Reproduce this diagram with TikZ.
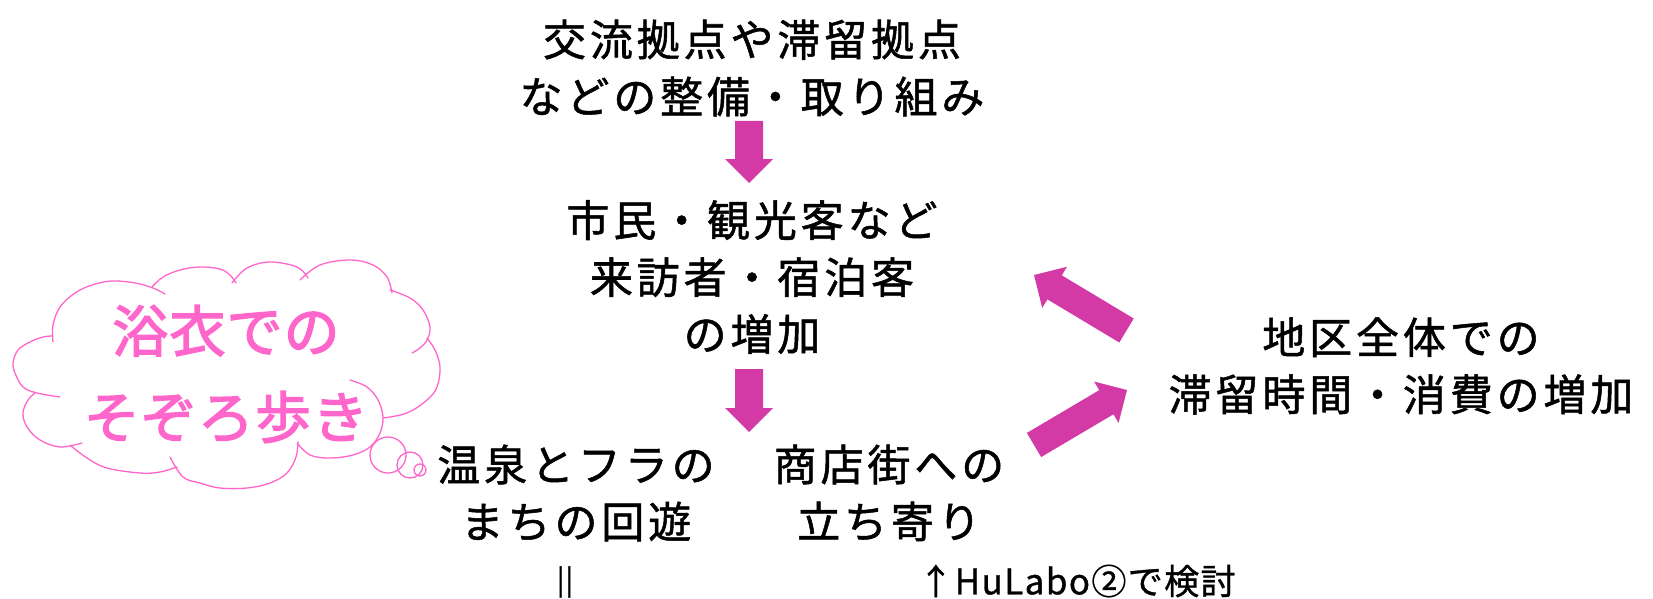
\documentclass[tikz,border=0pt]{standalone}
\usepackage{fontspec}
\setmainfont{Noto Sans CJK JP}
\newfontfamily\jpfont[LetterSpace=9,FakeBold=1.2]{Noto Sans CJK JP}
\newfontfamily\pkfont[LetterSpace=2,FakeBold=2.5]{Noto Sans CJK JP}
\newfontfamily\smfont[LetterSpace=4,FakeBold=1]{Noto Sans CJK JP}
\usetikzlibrary{calc}
\definecolor{arrowc}{RGB}{212,58,165}
\definecolor{pinkc}{RGB}{255,102,204}
\newcommand\myblockarrow[2]{%
  \coordinate (#1#2b) at ($(#2)!24pt!(#1)$);
  \fill[arrowc] ($(#1)!14pt!90:(#2)$) -- ($(#1#2b)!14pt!90:(#2)$) -- ($(#1#2b)!24pt!90:(#2)$) -- (#2) -- ($(#1#2b)!24pt!-90:(#2)$) -- ($(#1#2b)!14pt!-90:(#2)$) -- ($(#1)!14pt!-90:(#2)$) -- cycle;}
\tikzset{
  jtext/.style={align=center, font=\jpfont\fontsize{43}{57}\selectfont, inner sep=0pt, text=black},
  ptext/.style={align=center, font=\pkfont\fontsize{56}{86}\selectfont, inner sep=0pt, text=pinkc},
  stext/.style={font=\smfont\fontsize{35}{40}\selectfont, inner sep=0pt, text=black},
  cloudline/.style={draw=pinkc, line width=1.3pt, line cap=round},
}
\begin{document}
\begin{tikzpicture}[x=1pt, y=-1pt]
\useasboundingbox (0,0) rectangle (1653,599);
\fill[white] (0,0) rectangle (1653,599);

% cloud
\draw[cloudline] plot[smooth, tension=0.6] coordinates {(53,342) (53,325) (60,307) (75,293) (92,285) (112,281) (135,283) (153,288) (165,294)};
\draw[cloudline] plot[smooth, tension=0.6] coordinates {(152,287) (163,277) (180,270) (200,267) (220,269) (230,275) (236,283)};
\draw[cloudline] plot[smooth, tension=0.6] coordinates {(232,283) (247,268) (270,262) (297,267) (308,278)};
\draw[cloudline] plot[smooth, tension=0.6] coordinates {(300,280) (320,265) (350,260) (373,265) (387,277) (392,293)};
\draw[cloudline] plot[smooth, tension=0.6] coordinates {(390,290) (410,298) (423,310) (430,327) (427,340) (420,348) (412,353)};
\draw[cloudline] plot[smooth, tension=0.6] coordinates {(427,338) (435,350) (440,367) (437,387) (427,400) (407,413) (383,418)};
\draw[cloudline] plot[smooth, tension=0.6] coordinates {(350,380) (367,387) (378,400) (383,417) (380,433) (370,447) (353,455) (330,458) (310,455) (297,443)};
\draw[cloudline] plot[smooth, tension=0.6] coordinates {(298,442) (296,457) (287,473) (270,483) (247,488) (220,488) (200,483) (183,477) (170,457)};
\draw[cloudline] plot[smooth, tension=0.6] coordinates {(70,445) (87,458) (107,468) (140,473) (160,472) (177,467)};
\draw[cloudline] plot[smooth, tension=0.6] coordinates {(82,443) (60,447) (40,440) (27,427) (23,413) (28,400) (35,393)};
\draw[cloudline] plot[smooth, tension=0.6] coordinates {(60,397) (37,393) (23,387) (15,373) (13,363) (18,350) (30,342) (43,337) (53,336)};
% thought bubbles
\draw[cloudline] (388,455) circle[radius=18];
\draw[cloudline] (410,465) circle[radius=13];
\draw[cloudline] (420,470) circle[radius=6];

\node[ptext] (yukata) at (226,374) {浴衣での\\そぞろ歩き};

% texts
\node[jtext] (top) at (752,68) {交流拠点や滞留拠点\\などの整備・取り組み};
\node[jtext] (mid) at (752,277) {市民・観光客など\\来訪者・宿泊客\\の増加};
\node[jtext] (right) at (1401,366) {地区全体での\\滞留時間・消費の増加};
\node[jtext] (onsen) at (576,493) {温泉とフラの\\まちの回遊};
\node[jtext] (shop) at (889,493) {商店街への\\立ち寄り};
\node[stext, font=\smfont\fontsize{28}{32}\selectfont] (eq) at (565,582) {||};
\node[stext] (note) at (1077,581) {↑HuLabo②で検討};

% arrows
\coordinate (a1t) at (749,121); \coordinate (a1e) at (749,183);
\coordinate (a2t) at (749,369); \coordinate (a2e) at (749,432);
\coordinate (a3t) at (1126.5,330.5); \coordinate (a3e) at (1034,275);
\coordinate (a4t) at (1034,445); \coordinate (a4e) at (1127,390);
\myblockarrow{a1t}{a1e}
\myblockarrow{a2t}{a2e}
\myblockarrow{a3t}{a3e}
\myblockarrow{a4t}{a4e}
\end{tikzpicture}
\end{document}
